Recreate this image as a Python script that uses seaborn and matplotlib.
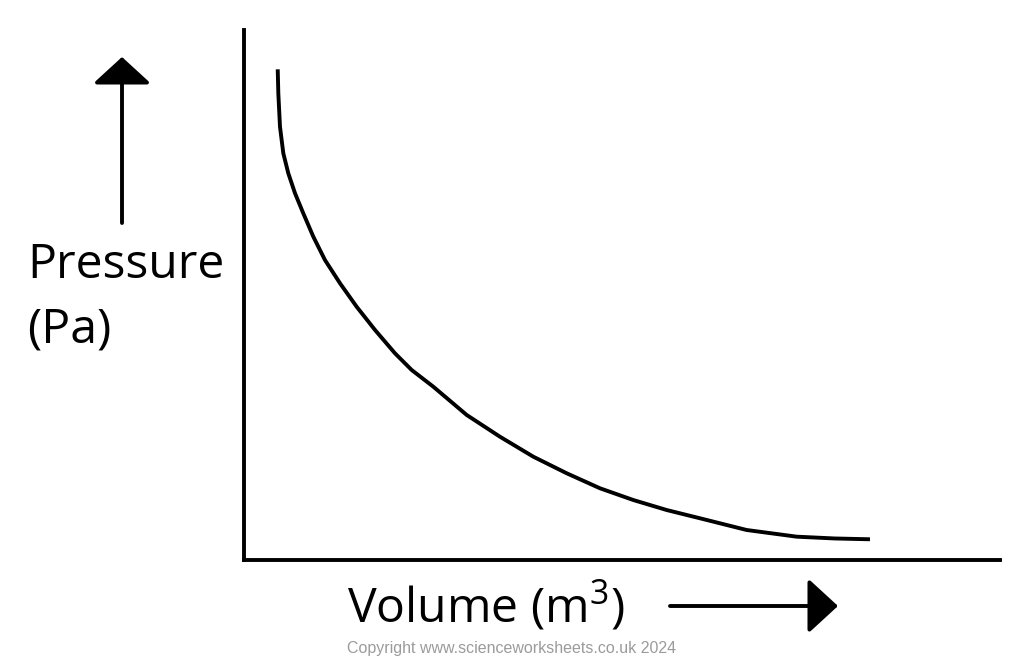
import matplotlib
matplotlib.use("Agg")
import matplotlib.pyplot as plt
import seaborn as sns
import pandas as pd

# Data (arbitrary units)
volume = [0.446, 0.454, 0.476, 0.520, 0.586, 0.675, 0.784, 0.917, 1.071, 1.270,
          1.490, 1.733, 1.997, 2.218, 2.504, 2.946, 3.386, 3.827, 4.269, 4.709,
          5.149, 5.591, 6.032, 6.649, 7.311, 7.817, 8.280]
pressure = [9.258, 8.806, 8.175, 7.674, 7.296, 6.919, 6.542, 6.100, 5.660, 5.221,
            4.779, 4.340, 3.900, 3.585, 3.270, 2.736, 2.326, 1.949, 1.636, 1.353,
            1.132, 0.943, 0.787, 0.566, 0.440, 0.406, 0.391]

x_label = "Volume (m$^3$)"
y_label_1 = "Pressure"
y_label_2 = "(Pa)"
copyright_text = "Copyright www.scienceworksheets.co.uk 2024"

df = pd.DataFrame({"Volume": volume, "Pressure": pressure})

sns.set_style("white")
plt.rcParams["font.family"] = ["Open Sans", "DejaVu Sans"]
plt.rcParams["mathtext.fontset"] = "custom"
plt.rcParams["mathtext.rm"] = "Open Sans"
plt.rcParams["mathtext.it"] = "Open Sans"
plt.rcParams["mathtext.default"] = "rm"

W, H = 1024, 657
fig = plt.figure(figsize=(W / 100, H / 100), dpi=100)
fig.patch.set_facecolor("white")

ax = fig.add_axes([244 / W, (H - 560) / H, (1000 - 244) / W, (560 - 30) / H])
sns.lineplot(data=df, x="Volume", y="Pressure", ax=ax, color="black",
             linewidth=2.8, sort=False, estimator=None,
             solid_joinstyle="round", solid_capstyle="butt")
ax.set_xlim(0, 10)
ax.set_ylim(0, 10)
ax.set_xticks([])
ax.set_yticks([])
ax.set_xlabel("")
ax.set_ylabel("")
for s in ["top", "right"]:
    ax.spines[s].set_visible(False)
for s in ["left", "bottom"]:
    ax.spines[s].set_color("black")
    ax.spines[s].set_linewidth(2.8)
ax.patch.set_alpha(0)

# labels
fig.text(27 / W, (H - 278) / H, y_label_1, fontsize=34.7, ha="left", va="baseline", color="black")
fig.text(27 / W, (H - 343) / H, y_label_2, fontsize=34.7, ha="left", va="baseline", color="black")
fig.text(347 / W, (H - 622) / H, x_label, fontsize=34.7, ha="left", va="baseline", color="black")
fig.text(512 / W, (H - 648) / H, copyright_text, fontsize=11.5, ha="center", va="center",
         color="#9b9b9b", family=["Liberation Sans", "DejaVu Sans"])

# arrows
fig.add_artist(matplotlib.patches.FancyArrowPatch(
    posA=(122 / W, (H - 223) / H), posB=(122 / W, (H - 57) / H),
    transform=fig.transFigure, arrowstyle="-|>,head_length=16.5,head_width=18",
    mutation_scale=1, color="black", linewidth=2.8, shrinkA=0, shrinkB=0))
fig.add_artist(matplotlib.patches.FancyArrowPatch(
    posA=(670 / W, (H - 606) / H), posB=(838 / W, (H - 606) / H),
    transform=fig.transFigure, arrowstyle="-|>,head_length=18.5,head_width=17",
    mutation_scale=1, color="black", linewidth=2.8, shrinkA=0, shrinkB=0))

fig.savefig("out.png", dpi=100, facecolor="white")
